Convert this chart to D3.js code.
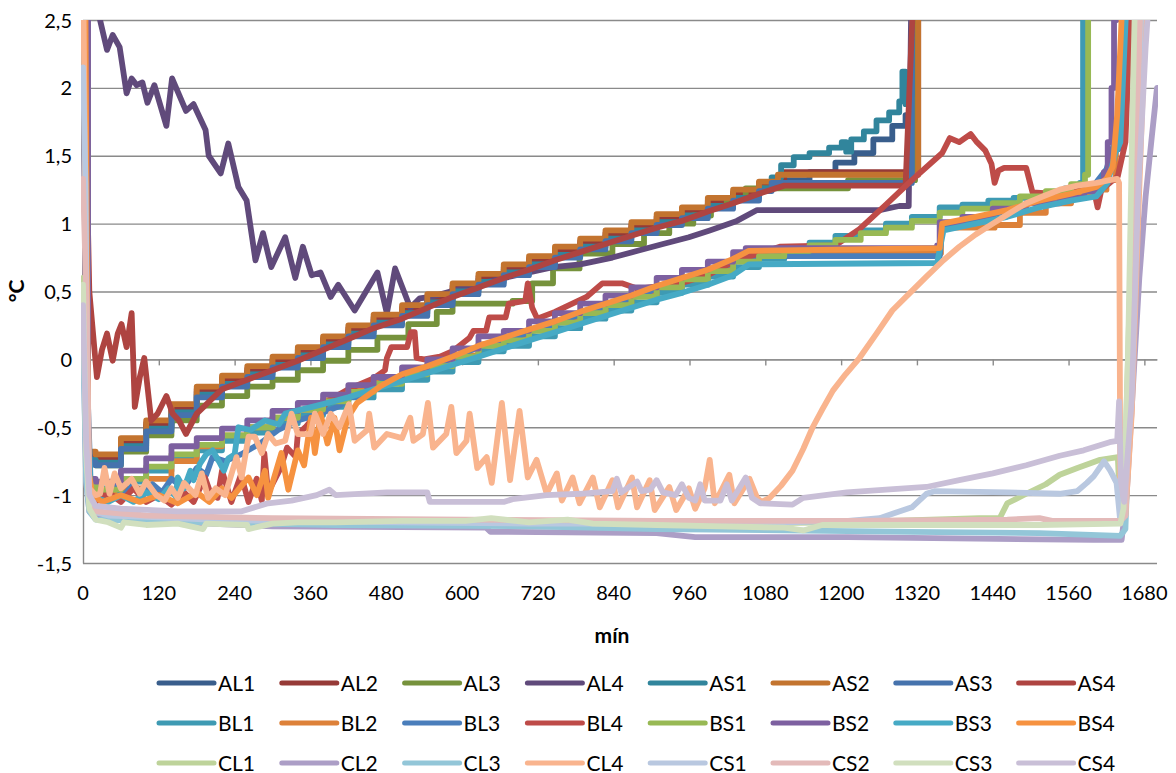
<!DOCTYPE html>
<html><head><meta charset="utf-8">
<script src="https://cdnjs.cloudflare.com/ajax/libs/d3/7.8.5/d3.min.js"></script>
<style>
html,body{margin:0;padding:0;background:#fff;}
svg text{font-family:Lato,"Liberation Sans",sans-serif;fill:#000;}
</style></head>
<body><svg id="c" width="1176" height="773"></svg>
<script>
// ---------- data ----------
const xTicks = [0,120,240,360,480,600,720,840,960,1080,1200,1320,1440,1560,1680];
const yTicks = [-1.5,-1,-0.5,0,0.5,1,1.5,2,2.5];
const yTickLabels = ['-1,5','-1','-0,5','0','0,5','1','1,5','2','2,5'];
const xTitle = 'mín';
const yTitle = '°C';
const seriesNames = ['AL1','AL2','AL3','AL4','AS1','AS2','AS3','AS4','BL1','BL2','BL3','BL4','BS1','BS2','BS3','BS4','CL1','CL2','CL3','CL4','CS1','CS2','CS3','CS4'];

const AL1 = [[0,3.0],[8,-0.72],[20,-0.74],[60,-0.62],[100,-0.49],[140,-0.37],[180,-0.24],[220,-0.16],[260,-0.09],[300,-0.02],[340,0.05],[380,0.13],[420,0.21],[460,0.29],[505,0.36],[545,0.44],[585,0.52],[626,0.59],[666,0.66],[706,0.72],[747,0.79],[787,0.85],[827,0.91],[868,0.97],[908,1.03],[948,1.08],[989,1.15],[1029,1.21],[1070,1.27],[1110,1.32],[1150,1.38],[1191,1.45],[1221,1.52],[1251,1.62],[1281,1.72],[1302,1.80],[1312,3.0]];
const AL2 = [[0,3.0],[8,-0.70],[20,-0.72],[60,-0.60],[100,-0.47],[140,-0.35],[180,-0.22],[220,-0.14],[260,-0.07],[300,0.0],[340,0.07],[380,0.15],[420,0.23],[460,0.31],[505,0.38],[545,0.46],[585,0.54],[626,0.61],[666,0.68],[706,0.74],[747,0.81],[787,0.87],[827,0.93],[868,0.99],[908,1.05],[948,1.10],[989,1.17],[1029,1.23],[1070,1.30],[1110,1.38],[1317,1.38],[1322,3.0]];
const AL3 = [[0,3.0],[8,-0.74],[20,-0.78],[60,-0.68],[100,-0.56],[140,-0.45],[180,-0.34],[220,-0.27],[260,-0.20],[300,-0.15],[340,-0.08],[380,-0.01],[420,0.07],[466,0.16],[515,0.26],[560,0.35],[585,0.41],[680,0.43],[711,0.56],[744,0.67],[786,0.78],[838,0.85],[888,0.93],[928,1.0],[966,1.06],[994,1.13],[1019,1.19],[1049,1.26],[1181,1.26],[1211,1.32],[1312,1.32],[1317,3.0]];
const AL4 = [[0,3.2],[20,2.8],[27,2.5],[38,2.28],[47,2.39],[58,2.3],[69,1.96],[77,2.07],[85,2.02],[94,2.04],[102,1.89],[113,2.02],[132,1.72],[141,2.07],[163,1.83],[175,1.88],[194,1.69],[199,1.50],[218,1.37],[230,1.59],[246,1.27],[259,1.17],[273,0.73],[285,0.93],[298,0.68],[320,0.90],[336,0.60],[348,0.83],[362,0.62],[376,0.64],[392,0.46],[404,0.55],[430,0.36],[466,0.64],[481,0.34],[494,0.67],[518,0.38],[533,0.45],[550,0.46],[629,0.56],[686,0.62],[744,0.68],[787,0.70],[838,0.75],[878,0.80],[918,0.85],[959,0.90],[992,0.95],[1035,1.02],[1067,1.10],[1261,1.10],[1292,1.13],[1307,1.13],[1312,3.0]];
const AS1 = [[0,3.0],[8,-0.74],[20,-0.76],[60,-0.64],[100,-0.51],[140,-0.39],[180,-0.26],[220,-0.18],[260,-0.11],[300,-0.04],[340,0.03],[380,0.11],[420,0.19],[460,0.27],[505,0.34],[545,0.42],[585,0.50],[626,0.57],[666,0.64],[706,0.70],[747,0.77],[787,0.83],[827,0.89],[868,0.95],[908,1.01],[948,1.06],[989,1.13],[1029,1.19],[1070,1.26],[1090,1.34],[1105,1.43],[1125,1.49],[1150,1.52],[1181,1.56],[1201,1.60],[1208,1.53],[1216,1.62],[1236,1.68],[1256,1.76],[1276,1.82],[1292,1.90],[1297,2.12],[1302,1.88],[1307,1.95],[1312,3.0]];
const AS2 = [[0,3.0],[8,-0.68],[20,-0.70],[60,-0.58],[100,-0.45],[140,-0.33],[180,-0.20],[220,-0.12],[260,-0.05],[300,0.02],[340,0.09],[380,0.17],[420,0.25],[460,0.33],[505,0.40],[545,0.48],[585,0.56],[626,0.63],[666,0.70],[706,0.76],[747,0.83],[787,0.89],[827,0.95],[868,1.01],[908,1.07],[948,1.12],[989,1.19],[1029,1.25],[1070,1.31],[1100,1.36],[1317,1.36],[1322,3.0]];
const AS3 = [[0,3.0],[8,-0.76],[20,-0.78],[60,-0.66],[100,-0.53],[140,-0.41],[180,-0.28],[220,-0.20],[260,-0.13],[300,-0.06],[340,0.01],[380,0.09],[420,0.17],[460,0.25],[505,0.32],[545,0.40],[585,0.48],[626,0.55],[666,0.62],[706,0.68],[747,0.75],[787,0.81],[827,0.87],[868,0.93],[908,0.99],[948,1.04],[989,1.11],[1029,1.17],[1070,1.24],[1090,1.30],[1307,1.30],[1312,3.0]];
const AS4 = [[0,3.0],[5,1.6],[10,0.5],[22,-0.13],[30,0.07],[38,0.19],[47,-0.01],[55,0.19],[61,0.26],[69,0.09],[77,0.34],[82,-0.35],[90,-0.13],[97,0.01],[108,-0.45],[118,-0.40],[132,-0.27],[142,-0.40],[152,-0.45],[163,-0.55],[180,-0.40],[220,-0.22],[260,-0.15],[300,-0.08],[340,-0.01],[380,0.07],[420,0.15],[460,0.23],[505,0.30],[545,0.38],[585,0.46],[626,0.53],[666,0.60],[706,0.66],[747,0.73],[787,0.79],[827,0.85],[868,0.91],[908,0.97],[948,1.02],[989,1.09],[1029,1.15],[1070,1.22],[1110,1.28],[1302,1.28],[1317,3.0]];
const BL1 = [[0,3.0],[8,-0.9],[20,-0.95],[60,-0.90],[100,-0.82],[140,-0.73],[180,-0.67],[220,-0.60],[260,-0.54],[300,-0.47],[340,-0.41],[380,-0.35],[420,-0.28],[460,-0.22],[505,-0.15],[545,-0.09],[585,-0.02],[626,0.06],[666,0.10],[706,0.17],[747,0.23],[787,0.30],[827,0.36],[868,0.42],[908,0.49],[948,0.55],[989,0.61],[1029,0.68],[1070,0.74],[1110,0.80],[1150,0.86],[1191,0.91],[1229,0.95],[1271,1.0],[1312,1.05],[1356,1.12],[1392,1.14],[1433,1.17],[1473,1.19],[1514,1.22],[1554,1.26],[1578,1.30],[1583,3.0]];
const BL2 = [[0,3.0],[8,-0.92],[20,-0.98],[60,-0.95],[100,-0.88],[140,-0.75],[180,-0.64],[220,-0.56],[260,-0.50],[300,-0.43],[340,-0.37],[380,-0.30],[420,-0.23],[460,-0.17],[505,-0.10],[545,-0.04],[585,0.03],[626,0.11],[666,0.15],[706,0.22],[747,0.28],[787,0.35],[827,0.41],[868,0.47],[908,0.54],[948,0.60],[989,0.66],[1029,0.73],[1049,0.78],[1356,0.78],[1358,0.97],[1443,0.99],[1483,1.08],[1524,1.15],[1564,1.20],[1600,1.25],[1620,1.32],[1635,1.6],[1648,3.0]];
const BL3 = [[0,3.0],[4,0.3],[8,-0.35],[12,-0.90],[20,-0.95],[35,-1.0],[50,-0.93],[65,-1.0],[80,-0.92],[95,-1.0],[110,-0.92],[125,-0.98],[140,-0.88],[160,-0.95],[180,-0.80],[195,-0.85],[205,-0.72],[225,-0.75],[250,-0.70],[280,-0.62],[309,-0.52],[340,-0.45],[376,-0.40],[403,-0.35],[423,-0.28],[440,-0.27],[455,-0.20],[505,-0.12],[545,-0.06],[585,0.01],[626,0.09],[666,0.13],[706,0.20],[747,0.26],[787,0.33],[827,0.39],[868,0.45],[908,0.52],[948,0.58],[989,0.64],[1029,0.71],[1049,0.76],[1356,0.76],[1360,0.98],[1413,1.02],[1463,1.10],[1514,1.17],[1564,1.22],[1600,1.28],[1620,1.40],[1634,1.62],[1640,1.55],[1650,1.9],[1660,3.0]];
const BL4 = [[0,3.0],[4,0.5],[10,-0.95],[20,-1.05],[40,-0.98],[60,-1.05],[80,-0.95],[100,-1.05],[120,-1.0],[140,-1.07],[160,-0.98],[175,-1.05],[193,-0.87],[203,-1.0],[213,-1.02],[220,-0.82],[235,-1.05],[250,-0.85],[262,-1.05],[275,-0.88],[283,-1.04],[287,-0.69],[293,-0.98],[313,-0.80],[323,-0.65],[337,-0.72],[340,-0.55],[352,-0.50],[370,-0.40],[390,-0.30],[420,-0.22],[460,-0.14],[478,-0.08],[481,0.01],[488,0.09],[513,0.09],[519,0.20],[525,0.2],[528,0.01],[540,0.0],[565,0.02],[585,0.06],[612,0.16],[618,0.21],[638,0.21],[643,0.31],[669,0.31],[674,0.41],[700,0.43],[704,0.56],[711,0.38],[719,0.30],[747,0.35],[797,0.46],[822,0.56],[853,0.56],[878,0.52],[945,0.56],[989,0.62],[1029,0.72],[1070,0.78],[1103,0.83],[1191,0.84],[1229,0.96],[1271,1.14],[1312,1.32],[1360,1.52],[1372,1.63],[1387,1.60],[1405,1.66],[1415,1.60],[1428,1.54],[1438,1.44],[1443,1.30],[1449,1.39],[1458,1.41],[1493,1.41],[1503,1.23],[1534,1.22],[1574,1.26],[1600,1.25],[1606,1.12],[1612,1.25],[1625,1.30],[1638,1.35],[1650,1.6],[1662,3.0]];
const BS1 = [[0,3.0],[8,-0.93],[20,-0.96],[60,-0.88],[100,-0.79],[140,-0.70],[180,-0.63],[220,-0.56],[260,-0.50],[300,-0.43],[340,-0.37],[380,-0.31],[420,-0.24],[460,-0.18],[505,-0.11],[545,-0.05],[585,0.02],[626,0.10],[666,0.14],[706,0.21],[747,0.27],[787,0.34],[827,0.40],[868,0.46],[908,0.53],[948,0.59],[989,0.65],[1029,0.72],[1070,0.76],[1110,0.80],[1150,0.84],[1191,0.88],[1231,0.93],[1271,0.97],[1312,1.02],[1356,1.08],[1392,1.11],[1440,1.15],[1483,1.20],[1524,1.24],[1564,1.29],[1586,1.36],[1591,3.0]];
const BS2 = [[0,3.0],[8,-0.88],[20,-0.90],[60,-0.82],[100,-0.73],[140,-0.64],[180,-0.58],[220,-0.51],[260,-0.45],[300,-0.38],[340,-0.32],[380,-0.26],[420,-0.19],[460,-0.13],[505,-0.06],[545,0.0],[585,0.08],[626,0.17],[666,0.21],[706,0.28],[747,0.34],[787,0.41],[827,0.47],[868,0.53],[908,0.60],[948,0.66],[989,0.72],[1029,0.79],[1049,0.82],[1352,0.84],[1356,1.01],[1392,1.05],[1440,1.11],[1493,1.15],[1546,1.19],[1585,1.24],[1604,1.30],[1616,1.38],[1622,1.6],[1628,2.0],[1632,2.5],[1636,3.0]];
const BS3 = [[0,3.0],[6,-0.3],[12,-0.95],[20,-1.02],[40,-1.05],[60,-1.0],[80,-1.05],[100,-0.98],[120,-1.03],[135,-0.95],[147,-1.01],[150,-0.87],[160,-0.95],[170,-0.82],[175,-0.89],[185,-0.77],[195,-0.70],[205,-0.67],[215,-0.75],[223,-0.82],[230,-0.73],[240,-0.70],[246,-0.50],[265,-0.52],[288,-0.45],[310,-0.48],[320,-0.40],[380,-0.33],[420,-0.28],[460,-0.22],[505,-0.16],[545,-0.10],[585,-0.04],[626,0.02],[666,0.08],[706,0.14],[747,0.20],[787,0.26],[827,0.32],[868,0.38],[908,0.44],[948,0.49],[989,0.55],[1029,0.62],[1054,0.70],[1352,0.71],[1362,0.95],[1413,1.0],[1463,1.05],[1514,1.12],[1564,1.17],[1604,1.20],[1622,1.30],[1634,1.52],[1642,1.6],[1655,3.0]];
const BS4 = [[0,3.0],[4,2.5],[8,-0.8],[15,-1.0],[30,-1.05],[60,-1.0],[90,-1.05],[120,-1.0],[150,-1.06],[180,-0.98],[200,-1.05],[220,-0.95],[235,-1.02],[262,-0.87],[275,-1.0],[288,-0.82],[293,-1.02],[314,-0.69],[325,-0.96],[340,-0.67],[350,-0.78],[361,-0.43],[367,-0.69],[376,-0.40],[387,-0.62],[398,-0.43],[406,-0.67],[419,-0.43],[434,-0.32],[470,-0.20],[505,-0.11],[545,-0.05],[585,0.02],[626,0.10],[666,0.16],[706,0.22],[747,0.28],[787,0.35],[827,0.41],[868,0.47],[908,0.54],[948,0.60],[989,0.66],[1029,0.74],[1054,0.80],[1356,0.82],[1360,1.0],[1413,1.05],[1463,1.10],[1514,1.17],[1564,1.22],[1604,1.27],[1620,1.33],[1630,1.42],[1637,1.8],[1643,2.4],[1648,3.0]];
const CL1 = [[0,0.6],[5,-0.8],[10,-1.1],[20,-1.15],[100,-1.17],[200,-1.2],[400,-1.2],[600,-1.21],[800,-1.21],[1000,-1.21],[1200,-1.2],[1419,-1.17],[1451,-1.17],[1463,-1.06],[1493,-0.99],[1524,-0.92],[1546,-0.85],[1574,-0.80],[1610,-0.74],[1638,-0.72],[1642,-1.15],[1648,-1.0],[1657,0.5],[1664,2.0],[1668,3.0]];
const CL2 = [[0,0.3],[5,-0.9],[10,-1.12],[20,-1.17],[150,-1.2],[300,-1.23],[638,-1.24],[645,-1.27],[908,-1.28],[969,-1.31],[1211,-1.31],[1413,-1.32],[1600,-1.33],[1644,-1.33],[1652,-1.0],[1662,-0.2],[1672,0.6],[1682,1.2],[1692,1.65],[1700,2.0]];
const CL3 = [[0,0.2],[5,-0.9],[10,-1.12],[20,-1.18],[200,-1.2],[400,-1.22],[706,-1.23],[908,-1.25],[1110,-1.26],[1312,-1.27],[1514,-1.28],[1642,-1.3],[1650,-1.25],[1660,0.0],[1670,1.8],[1677,3.0]];
const CL4 = [[0,3.0],[4,1.0],[10,-0.95],[20,-1.0],[27,-0.99],[34,-0.80],[42,-0.99],[50,-0.84],[60,-0.95],[77,-0.88],[90,-0.99],[100,-0.90],[116,-1.0],[129,-1.04],[140,-0.95],[150,-1.02],[160,-0.91],[178,-1.0],[188,-0.84],[198,-1.02],[210,-0.95],[225,-1.0],[243,-0.72],[251,-0.87],[262,-0.57],[272,-0.57],[283,-0.69],[293,-0.55],[305,-0.62],[320,-0.60],[330,-0.40],[340,-0.55],[360,-0.55],[367,-0.40],[380,-0.55],[392,-0.40],[406,-0.50],[421,-0.33],[430,-0.60],[450,-0.52],[453,-0.40],[461,-0.65],[481,-0.55],[505,-0.58],[518,-0.43],[523,-0.60],[538,-0.55],[546,-0.32],[554,-0.65],[575,-0.55],[583,-0.35],[591,-0.69],[607,-0.60],[612,-0.40],[624,-0.80],[639,-0.72],[647,-0.91],[663,-0.32],[676,-0.89],[691,-0.38],[704,-0.87],[718,-0.74],[734,-0.99],[750,-0.84],[758,-1.04],[775,-0.87],[786,-1.06],[807,-0.87],[818,-1.09],[838,-0.89],[847,-1.09],[869,-0.87],[877,-1.09],[897,-0.89],[905,-1.11],[928,-0.94],[939,-1.11],[959,-0.95],[969,-1.1],[984,-0.95],[992,-0.74],[1000,-1.06],[1023,-0.85],[1031,-1.06],[1055,-0.88],[1067,-1.02],[1074,-1.05],[1087,-1.02],[1105,-0.93],[1123,-0.82],[1140,-0.66],[1155,-0.50],[1170,-0.37],[1187,-0.23],[1207,-0.11],[1229,0.01],[1256,0.19],[1281,0.36],[1309,0.49],[1335,0.61],[1362,0.73],[1387,0.83],[1413,0.92],[1440,1.0],[1468,1.08],[1493,1.15],[1519,1.20],[1546,1.25],[1574,1.28],[1604,1.30],[1625,1.32],[1637,1.33],[1640,1.30],[1642,-1.05],[1650,-1.15],[1660,-0.4],[1670,1.0],[1680,2.3],[1686,3.0]];
const CS1 = [[0,2.15],[4,1.3],[8,-1.0],[15,-1.12],[40,-1.15],[100,-1.16],[200,-1.18],[300,-1.19],[500,-1.2],[706,-1.21],[908,-1.21],[1110,-1.2],[1211,-1.19],[1261,-1.17],[1286,-1.13],[1312,-1.09],[1335,-0.99],[1349,-0.97],[1463,-0.98],[1546,-0.99],[1574,-0.97],[1589,-0.91],[1600,-0.86],[1612,-0.78],[1616,-0.75],[1626,-0.82],[1636,-0.91],[1642,-1.2],[1650,-1.05],[1660,0.2],[1670,1.8],[1678,3.0]];
const CS2 = [[0,1.33],[5,0.5],[10,-1.05],[20,-1.12],[100,-1.15],[300,-1.17],[606,-1.18],[908,-1.19],[1211,-1.19],[1463,-1.18],[1514,-1.17],[1534,-1.19],[1642,-1.19],[1650,-1.15],[1660,0.2],[1670,2.0],[1676,3.0]];
const CS3 = [[0,0.55],[5,-0.7],[10,-1.1],[20,-1.18],[40,-1.2],[60,-1.24],[65,-1.2],[100,-1.22],[150,-1.21],[190,-1.25],[195,-1.21],[260,-1.22],[262,-1.25],[300,-1.21],[340,-1.2],[400,-1.2],[505,-1.19],[606,-1.19],[646,-1.17],[706,-1.2],[767,-1.18],[807,-1.21],[908,-1.22],[1009,-1.23],[1110,-1.24],[1140,-1.26],[1170,-1.22],[1312,-1.22],[1413,-1.22],[1514,-1.22],[1642,-1.21],[1647,-1.1],[1654,0.0],[1662,2.0],[1667,3.0]];
const CS4 = [[0,0.4],[5,-0.6],[10,-1.0],[20,-1.08],[60,-1.10],[150,-1.12],[250,-1.12],[293,-1.06],[330,-1.04],[370,-1.0],[390,-0.96],[400,-1.0],[481,-0.98],[545,-0.98],[549,-1.05],[666,-1.05],[680,-1.03],[734,-1.0],[787,-0.99],[838,-0.97],[845,-0.88],[852,-0.98],[877,-0.90],[884,-0.97],[898,-0.96],[908,-0.89],[918,-0.98],[938,-1.0],[948,-0.92],[959,-1.02],[969,-1.04],[977,-0.92],[984,-1.04],[1009,-1.04],[1019,-0.92],[1027,-1.04],[1049,-0.87],[1059,-1.02],[1072,-1.06],[1123,-1.07],[1140,-1.02],[1209,-0.98],[1271,-0.96],[1335,-0.94],[1387,-0.89],[1440,-0.84],[1493,-0.78],[1546,-0.71],[1584,-0.67],[1625,-0.61],[1637,-0.60],[1640,-0.31],[1643,-0.9],[1648,-1.05],[1660,-0.3],[1670,1.2],[1682,2.3],[1692,3.0]];

const seriesData = [AL1,AL2,AL3,AL4,AS1,AS2,AS3,AS4,BL1,BL2,BL3,BL4,BS1,BS2,BS3,BS4,CL1,CL2,CL3,CL4,CS1,CS2,CS3,CS4];

// ---------- styles ----------
const seriesColors = ['#395E8C','#963A37','#76923C','#604A7B','#31859C','#C3742F','#4673AD','#AE4441',
                      '#3E9AB3','#DD8139','#4A7EBB','#BE4B48','#98B954','#7D60A0','#46AAC5','#F69240',
                      '#BED39A','#AC9EC6','#93C6D8','#F9B48E','#B9C8E0','#E3BAB9','#D1DFBE','#C9BFD7'];
const stepSeries = new Set(['AL1','AL2','AL3','AS1','AS2','AS3','BL1','BL2','BS1','BS2']);
const LW = 5.8;

const M = {left:83, right:1157, top:20, bottom:563};
const svg = d3.select('#c');
const x = d3.scaleLinear().domain([0,1700]).range([M.left, M.right]);
const y = d3.scaleLinear().domain([-1.5,2.5]).range([M.bottom, M.top]);
const grid = '#8A8A8A';

// gridlines
svg.append('g').attr('transform',`translate(${M.left},0)`)
  .call(d3.axisLeft(y).tickValues(yTicks).tickSize(-(M.right-M.left)).tickFormat(''))
  .call(g=>g.select('.domain').remove())
  .call(g=>g.selectAll('line').attr('stroke',grid).attr('stroke-width',1.4));

// y axis line + labels
svg.append('g').attr('transform',`translate(${M.left},0)`)
  .call(d3.axisLeft(y).tickValues(yTicks).tickSize(0).tickPadding(11).tickFormat((d,i)=>yTickLabels[i]))
  .call(g=>g.select('.domain').attr('stroke',grid).attr('stroke-width',1.4))
  .call(g=>g.selectAll('text').style('font-size','20px').attr('dy','0.35em'));

// x axis at y=0 with ticks
svg.append('g').attr('transform',`translate(0,${y(0)})`)
  .call(d3.axisBottom(x).tickValues(xTicks).tickSize(6).tickSizeOuter(0).tickFormat(''))
  .call(g=>g.select('.domain').attr('stroke',grid).attr('stroke-width',1.4))
  .call(g=>g.selectAll('line').attr('stroke',grid).attr('stroke-width',1.4));

// x labels at bottom
svg.append('g').selectAll('text').data(xTicks).join('text')
  .attr('x',d=>x(d)).attr('y',600).attr('text-anchor','middle')
  .style('font-size','20px').text(d=>d);

// clip
svg.append('defs').append('clipPath').attr('id','clip')
  .append('rect').attr('x',M.left-2).attr('y',M.top).attr('width',M.right-M.left+3).attr('height',M.bottom-M.top+3);

const plot = svg.append('g').attr('clip-path','url(#clip)');
seriesData.forEach((data,i)=>{
  const name = seriesNames[i];
  const line = d3.line().x(d=>x(d[0])).y(d=>y(d[1]))
    .curve(stepSeries.has(name) ? d3.curveStepAfter : d3.curveLinear);
  plot.append('path').datum(data).attr('d',line)
    .attr('fill','none').attr('stroke',seriesColors[i]).attr('stroke-width',LW)
    .attr('stroke-linejoin','round').attr('stroke-linecap','round');
});

// axis titles
svg.append('text').attr('x',612).attr('y',643).attr('text-anchor','middle')
  .style('font-size','21px').style('font-weight','bold').text(xTitle);
svg.append('text').attr('transform','translate(24,291) rotate(-90)').attr('text-anchor','middle')
  .style('font-size','21px').style('font-weight','bold').text(yTitle);

// legend
const leg = svg.append('g');
seriesNames.forEach((n,i)=>{
  const col = i%8, row = Math.floor(i/8);
  const lx = 159 + col*122.8, ly = 683 + row*40;
  leg.append('line').attr('x1',lx).attr('x2',lx+55).attr('y1',ly).attr('y2',ly)
    .attr('stroke',seriesColors[i]).attr('stroke-width',5).attr('stroke-linecap','round');
  leg.append('text').attr('x',lx+59).attr('y',ly+7.5).style('font-size','21px').text(n);
});
</script></body></html>
